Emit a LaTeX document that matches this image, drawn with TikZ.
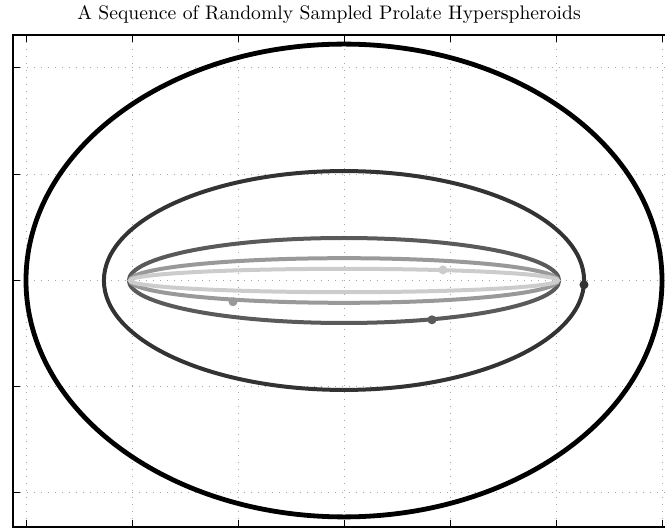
\documentclass[tikz,border=0pt]{standalone}
\usetikzlibrary{calc}
\definecolor{cA}{HTML}{000000}
\definecolor{cB}{HTML}{333333}
\definecolor{cC}{HTML}{5A5A5A}
\definecolor{cD}{HTML}{999999}
\definecolor{cE}{HTML}{CCCCCC}
\tikzset{
  gridline/.style={gray!70, line width=0.5pt, dash pattern=on 0.5pt off 3pt},
  axisbox/.style={black, line width=0.8pt},
  tickmark/.style={black, line width=0.5pt},
  hyper/.style={line width=2pt},
  sample/.style={circle, inner sep=0pt, minimum size=4.5pt},
}
\begin{document}
\begin{tikzpicture}[x=0.5pt,y=-0.5pt]
\useasboundingbox (0,0) rectangle (665,529);
% grid
\foreach \gx in {26,132,238,344,450,556,662} {
  \draw[gridline] (\gx,35) -- (\gx,527);
}
\foreach \gy in {68,174.25,280.5,386.75,493} {
  \draw[gridline] (12.7,\gy) -- (675,\gy);
}
% ticks
\foreach \gx in {26,132,238,344,450,556,662} {
  \draw[tickmark] (\gx,527) -- (\gx,520);
  \draw[tickmark] (\gx,35) -- (\gx,42);
}
\foreach \gy in {68,174.25,280.5,386.75,493} {
  \draw[tickmark] (12.7,\gy) -- (19.7,\gy);
}
% axes box
\draw[axisbox] (12.7,35) rectangle (675,527);
% title
\node[anchor=base, font=\fontsize{9.8}{12}\selectfont] (title) at (329,20) {A Sequence of Randomly Sampled Prolate Hyperspheroids};
% ellipses in data units
\begin{scope}[shift={(344,280.5)}, x=53pt, y=53.125pt]
  \draw[hyper, cA, line width=2.4pt] (0,0) ellipse [x radius=3, y radius=2.225];
  \draw[hyper, cB] (0,0) ellipse [x radius=2.265, y radius=1.03];
  \node[sample, fill=cB] (s1) at (2.264,-0.04) {};
  \draw[hyper, cC] (0,0) ellipse [x radius=2.03, y radius=0.40];
  \node[sample, fill=cC] (s2) at (0.83,-0.37) {};
  \draw[hyper, cD] (0,0) ellipse [x radius=2.02, y radius=0.21];
  \node[sample, fill=cD] (s3) at (-1.047,-0.20) {};
  \draw[hyper, cE] (0,0) ellipse [x radius=2.02, y radius=0.11];
  \node[sample, fill=cE] (s4) at (0.934,0.10) {};
\end{scope}
\end{tikzpicture}
\end{document}
